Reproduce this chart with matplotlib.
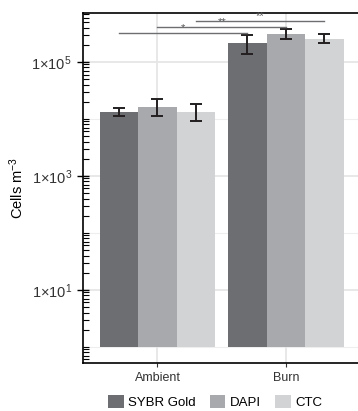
import numpy as np
import matplotlib
matplotlib.use("Agg")
import matplotlib.pyplot as plt
from matplotlib.patches import Patch
from matplotlib.ticker import LogLocator, FixedLocator, NullFormatter

plt.rcParams['font.family'] = ['Liberation Sans', 'DejaVu Sans']
plt.rcParams['mathtext.fontset'] = 'custom'
plt.rcParams['mathtext.rm'] = 'Liberation Sans'
plt.rcParams['mathtext.it'] = 'Liberation Sans'

sites = ["Ambient", "Burn"]
stains = ["SYBR Gold", "DAPI", "CTC"]
colors = ["#6d6e71", "#a7a9ac", "#d1d3d4"]

# cells per m3, per stain: [Ambient, Burn]
means = {
    "SYBR Gold": [1.3e4, 2.1e5],
    "DAPI": [1.6e4, 3.1e5],
    "CTC": [1.3e4, 2.5e5],
}
err_lo = {
    "SYBR Gold": [1.12e4, 1.38e5],
    "DAPI": [1.13e4, 2.5e5],
    "CTC": [9.2e3, 2.1e5],
}
err_hi = {
    "SYBR Gold": [1.55e4, 2.97e5],
    "DAPI": [2.2e4, 3.8e5],
    "CTC": [1.8e4, 3.1e5],
}

# significance brackets between Ambient and Burn for one stain
sig_stain = ["SYBR Gold", "DAPI", "CTC"]
sig_y = [3.2e5, 4.1e5, 5.2e5]
sig_label = ["*", "**", "**"]

fig = plt.figure(figsize=(3.58, 4.11), dpi=100)
ax = fig.add_axes([83/358, 48/411, 280/358, 350/411])

x = np.arange(1, len(sites) + 1)
w = 0.3
offsets = {s: (i - 1) * w for i, s in enumerate(stains)}

for s, c in zip(stains, colors):
    m = np.array(means[s])
    ax.bar(x + offsets[s], m - 1, bottom=1, width=w, color=c, zorder=2)
    lo = m - np.array(err_lo[s])
    hi = np.array(err_hi[s]) - m
    ax.errorbar(x + offsets[s], m, yerr=[lo, hi], fmt='none', ecolor="#231f20",
                elinewidth=1.4, capsize=4, capthick=1.4, zorder=3)

for s, yv, lab in zip(sig_stain, sig_y, sig_label):
    x0 = x[0] + offsets[s]
    x1 = x[1] + offsets[s]
    ax.plot([x0, x1], [yv, yv], color="#6d6e71", lw=1.0, zorder=4)
    ax.text((x0 + x1) / 2, yv * 1.01, lab, ha='center', va='bottom',
            fontsize=8, color="#555555")

ax.set_yscale('log')
ax.set_ylim(0.52, 7.2e5)
ax.set_xlim(0.42, 2.6)

ax.yaxis.set_major_locator(FixedLocator([1e1, 1e3, 1e5]))
ax.set_yticklabels([r'$1{\times}10^{1}$', r'$1{\times}10^{3}$', r'$1{\times}10^{5}$'],
                   fontsize=10.5, color="#333333")
ax.yaxis.set_minor_locator(LogLocator(base=10, subs=np.arange(1, 10), numticks=20))
ax.yaxis.set_minor_formatter(NullFormatter())
ax.tick_params(axis='y', which='major', direction='inout', length=9, width=1)
ax.tick_params(axis='y', which='minor', direction='in', length=4, width=0.8)

ax.set_xticks(x)
ax.set_xticklabels(sites, fontsize=9, color="#333333")
ax.tick_params(axis='x', direction='out', length=3, width=0.8, colors="#333333")

for yv in [1e1, 1e3, 1e5]:
    ax.axhline(yv, color="#e6e6e6", lw=1.3, zorder=0)
for yv in [1e0, 1e2, 1e4]:
    ax.axhline(yv, color="#eeeeee", lw=0.8, zorder=0)
for xv in x:
    ax.axvline(xv, color="#e6e6e6", lw=1.3, zorder=0)

for sp in ['left', 'bottom', 'top']:
    ax.spines[sp].set_linewidth(1.2)
    ax.spines[sp].set_color("black")
ax.spines['right'].set_visible(False)

ax.set_ylabel(r'Cells m$^{-3}$', fontsize=10.5)
ax.yaxis.set_label_coords(-0.205, 0.5)

handles = [Patch(facecolor=c, edgecolor='none', label=s) for s, c in zip(stains, colors)]
fig.legend(handles=handles, loc='center', bbox_to_anchor=(0.6, 0.022), ncol=3,
           frameon=False, fontsize=9.5, handlelength=1.2, handleheight=1.2,
           handletextpad=0.3, columnspacing=1.1)

fig.savefig("out.png", dpi=100)
